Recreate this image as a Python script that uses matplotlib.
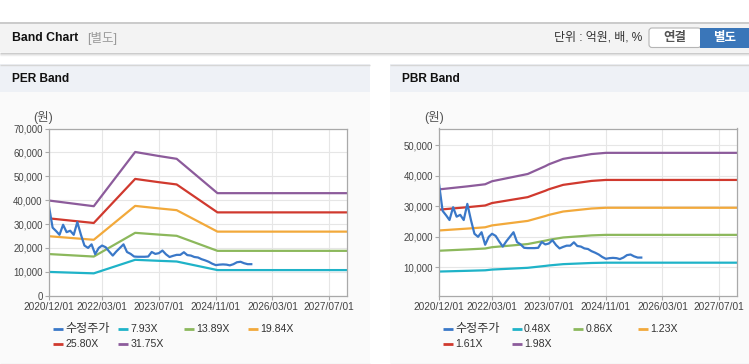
import matplotlib
matplotlib.use("Agg")
import matplotlib.pyplot as plt
import matplotlib.dates as mdates
from matplotlib.patches import Rectangle, FancyBboxPatch
import pandas as pd

plt.rcParams['font.family'] = ['Liberation Sans', 'Noto Sans CJK KR', 'DejaVu Sans']

# ---------------- data ----------------
price_start = "2020-12-01"          # monthly closing prices (수정주가), KRW
price = [37400, 28500, 27000, 25500, 29700, 26600, 27200, 25500, 30800, 25500,
         21000, 20000, 21500, 17400, 20000, 21000, 20300, 18500, 16800, 18500,
         20000, 21500, 18300, 17500, 16400, 16300, 16300, 16300, 16400, 18300,
         17500, 17800, 18900, 17300, 16200, 16700, 17100, 17100, 18200, 17000,
         16800, 16200, 16000, 15300, 14800, 14200, 13400, 12800, 13000, 13100,
         13000, 12700, 13200, 14000, 14200, 13600, 13200, 13200]

eps_dates = ["2020-12-01", "2021-12-20", "2022-12-10", "2023-07-01",
             "2023-12-01", "2024-11-15", "2027-12-01"]
eps_vals = [1255, 1180, 1895, 1842, 1805, 1352, 1352]
per_mult = [7.93, 13.89, 19.84, 25.80, 31.75]

bps_dates = ["2020-12-01", "2021-08-01", "2022-01-01", "2022-03-01", "2023-01-01",
             "2023-06-01", "2023-07-01", "2023-11-01", "2024-04-01", "2024-07-01",
             "2024-11-01", "2027-12-01"]
bps_vals = [17950, 18450, 18800, 19300, 20500, 21800, 22100, 23000, 23500, 23800,
            24000, 24000]
pbr_mult = [0.48, 0.86, 1.23, 1.61, 1.98]

xtick_dates = ["2020-12-01", "2022-03-01", "2023-07-01", "2024-11-01",
               "2026-03-01", "2027-07-01"]
xtick_labels = ["2020/12/01", "2022/03/01", "2023/07/01", "2024/11/01",
                "2026/03/01", "2027/07/01"]
x_range = ["2020-12-01", "2027-12-01"]
price_label = "수정주가"

per_yticks = [0, 10000, 20000, 30000, 40000, 50000, 60000, 70000]
pbr_yticks = [10000, 20000, 30000, 40000, 50000]

band_colors = ["#1fb3c8", "#8cb85c", "#f2a93b", "#d0392e", "#8c5b9b"]
price_color = "#3a78c8"

# ---------------- figure ----------------
W, H = 749, 364
fig = plt.figure(figsize=(W / 100, H / 100), dpi=100)
bg = fig.add_axes([0, 0, 1, 1], zorder=0)
bg.set_xlim(0, W)
bg.set_ylim(H, 0)
bg.axis('off')


def rect(x0, y0, x1, y1, fc, ec='none', lw=0):
    bg.add_patch(Rectangle((x0, y0), x1 - x0, y1 - y0, facecolor=fc,
                           edgecolor=ec, linewidth=lw))


def hline(x0, x1, y, c, lw=1.0):
    bg.plot([x0, x1], [y, y], color=c, lw=lw, solid_capstyle='butt')


# top header bar
rect(0, 22, W, 52, "#f3f3f3")
hline(0, W, 22.5, "#c4c4c4", 1.2)
hline(0, W, 52.5, "#c8c8c8", 1.0)
hline(0, W, 53.5, "#dddddd", 1.0)
hline(0, W, 54.5, "#eeeeee", 1.0)
bg.text(11.5, 38, "Band Chart", fontsize=8.8, fontweight='bold', color='#111111',
        va='center', ha='left')
bg.text(87, 38.5, "[별도]", fontsize=9, color='#9a9a9a', va='center', ha='left')
bg.text(642, 38, "단위 : 억원, 배, %", fontsize=8.6, color='#333333',
        va='center', ha='right')
bg.add_patch(FancyBboxPatch((649, 28), 52, 19.5, boxstyle="round,pad=0,rounding_size=3",
                            facecolor='white', edgecolor='#b5b5b5', linewidth=0.8))
rect(700, 27.5, W, 48, "#3a76b9")
bg.text(674.5, 38, "연결", fontsize=9, fontweight='bold', color='#555555',
        va='center', ha='center')
bg.text(725, 38, "별도", fontsize=9, fontweight='bold', color='white',
        va='center', ha='center')

# panels
for (px0, px1, title) in [(0, 370, "PER Band"), (390, W, "PBR Band")]:
    rect(px0, 64, px1, 363, "#fafafa")
    rect(px0, 64, px1, 92, "#eef1f6")
    hline(px0, px1, 64.5, "#d6d6d6", 1.0)
    hline(px0, px1, 363.5, "#d4d4d4", 1.0)
    bg.text(px0 + 11.5, 79.5, title, fontsize=8.6, fontweight='bold',
            color='#111111', va='center', ha='left')


def make_axes(left, right, top, bottom):
    return fig.add_axes([left / W, 1 - bottom / H, (right - left) / W, (bottom - top) / H],
                        zorder=2)


xt = [mdates.date2num(pd.Timestamp(d)) for d in xtick_dates]
xlim = [mdates.date2num(pd.Timestamp(d)) for d in x_range]
price_dates = pd.date_range(price_start, periods=len(price), freq="MS")


def style(ax, yticks, ylim):
    ax.set_facecolor('white')
    ax.set_xlim(*xlim)
    ax.set_ylim(*ylim)
    ax.set_xticks(xt)
    ax.set_xticklabels(xtick_labels)
    ax.set_yticks(yticks)
    ax.set_yticklabels([f"{v:,}" for v in yticks])
    ax.grid(True, color='#e6e6e6', lw=0.8)
    ax.set_axisbelow(True)
    for s in ax.spines.values():
        s.set_color('#a9a9a9')
        s.set_linewidth(0.9)
    ax.tick_params(axis='both', colors='#a9a9a9', labelcolor='#444444',
                   length=3, width=0.8)
    ax.tick_params(axis='x', pad=1.5, labelsize=7.3)
    ax.tick_params(axis='y', pad=1.5, labelsize=6.9)


def draw(ax, bdates, bvals, mults):
    bd = pd.to_datetime(bdates)
    for m, c in zip(mults, band_colors):
        ax.plot(bd, [v * m for v in bvals], color=c, lw=1.6, solid_joinstyle='round')
    ax.plot(price_dates, price, color=price_color, lw=1.6, solid_joinstyle='round')


ax1 = make_axes(49, 347, 128.5, 295.7)
style(ax1, per_yticks, (0, 70000))
draw(ax1, eps_dates, eps_vals, per_mult)

ax2 = make_axes(439, 737, 128.5, 295.7)
style(ax2, pbr_yticks, (700, 55500))
draw(ax2, bps_dates, bps_vals, pbr_mult)

bg.text(43, 118, "(원)", fontsize=9, color='#555555', va='center', ha='center')
bg.text(434, 118, "(원)", fontsize=9, color='#555555', va='center', ha='center')


# legends
def legend(xs_row1, xs_row2, mults):
    labels = [price_label] + [f"{m:.2f}X" for m in mults]
    colors = [price_color] + band_colors
    xs = xs_row1 + xs_row2
    ys = [329] * len(xs_row1) + [344] * len(xs_row2)
    for lab, c, x, y in zip(labels, colors, xs, ys):
        bg.plot([x, x + 10], [y, y], color=c, lw=2.0, solid_capstyle='butt')
        fs = 8.7 if lab == price_label else 7.6
        bg.text(x + 12.5, y, lab, fontsize=fs, color='#333333', va='center', ha='left')


legend([53, 118, 184, 248], [53, 118], per_mult)
legend([443, 511.5, 573, 638], [443, 511.5], pbr_mult)

fig.savefig("out.png", dpi=100)
